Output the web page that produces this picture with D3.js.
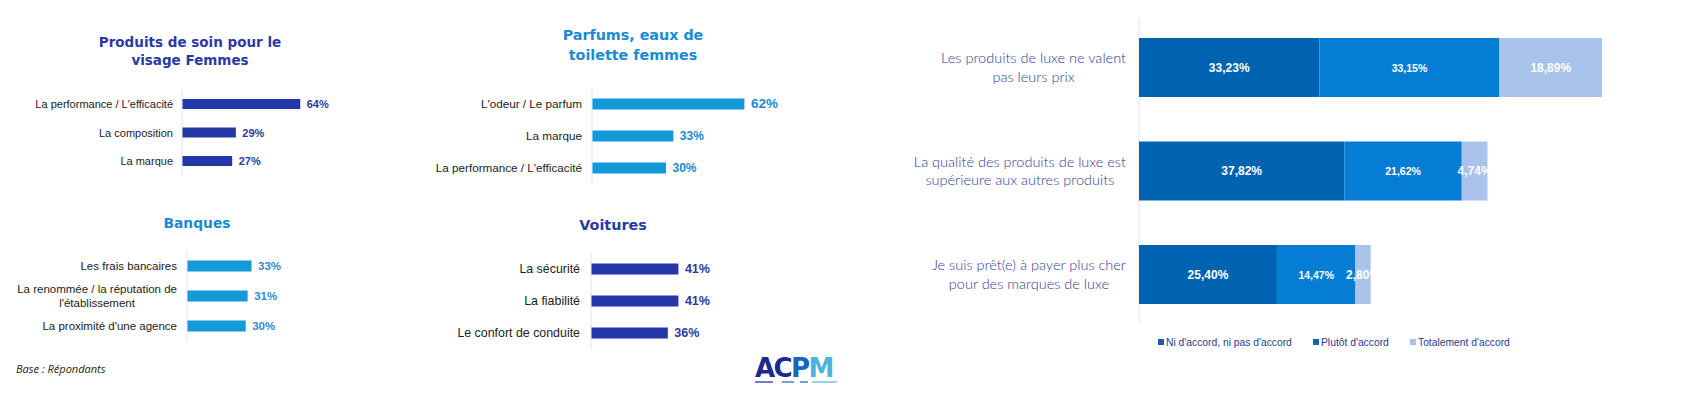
<!DOCTYPE html>
<html><head><meta charset="utf-8">
<script src="https://cdn.jsdelivr.net/npm/d3@7"></script>
<style>
html,body{margin:0;padding:0;background:#fff;}
svg{display:block;}
</style></head>
<body>
<svg id="c" width="1695" height="395"></svg>
<script>
// ---- data ----
const soinTitle = ["Produits de soin pour le", "visage Femmes"];
const soinCats = ["La performance / L'efficacité", "La composition", "La marque"];
const soinVals = [64, 29, 27];

const banqueTitle = ["Banques"];
const banqueCats = ["Les frais bancaires", "La renommée / la réputation de\nl'établissement", "La proximité d'une agence"];
const banqueVals = [33, 31, 30];

const parfumTitle = ["Parfums, eaux de", "toilette femmes"];
const parfumCats = ["L'odeur / Le parfum", "La marque", "La performance / L'efficacité"];
const parfumVals = [62, 33, 30];

const voitureTitle = ["Voitures"];
const voitureCats = ["La sécurité", "La fiabilité", "Le confort de conduite"];
const voitureVals = [41, 41, 36];

const luxeCats = ["Les produits de luxe ne valent\npas leurs prix",
                  "La qualité des produits de luxe est\nsupérieure aux autres produits",
                  "Je suis prêt(e) à payer plus cher\npour des marques de luxe"];
const luxeSeries = ["Ni d'accord, ni pas d'accord", "Plutôt d'accord", "Totalement d'accord"];
const niVals = [33.23, 37.82, 25.40];
const plutotVals = [33.15, 21.62, 14.47];
const totalVals = [18.89, 4.74, 2.80];

const baseNote = "Base : Répondants";

// ---- drawing ----
const svg = d3.select("#c");
const DARK = "#2337a6", LIGHT = "#149ad8";

function hbar(cfg) {
  const g = svg.append("g");
  const y = d3.scalePoint().domain(cfg.cats).range([cfg.y0, cfg.y1]).padding(0.5);
  const x = d3.scaleLinear().domain([0, 100]).range([cfg.x0, cfg.x0 + 100 * cfg.k]);
  // title
  const t = g.append("text").attr("text-anchor", "middle")
    .attr("font-family", "DejaVu Sans").attr("font-weight", "bold")
    .attr("font-size", cfg.tSize).attr("letter-spacing", cfg.tLs).attr("fill", cfg.tColor);
  cfg.title.forEach((l, i) => t.append("tspan").attr("x", cfg.tx).attr("y", cfg.ty + i * cfg.tLh).text(l));
  // axis line
  g.append("line").attr("x1", x(0)).attr("x2", x(0)).attr("y1", cfg.y0).attr("y2", cfg.y1)
    .attr("stroke", "#e3e4ec").attr("stroke-width", 1);
  // bars
  g.selectAll("rect.b").data(cfg.vals).join("rect")
    .attr("x", x(0) + 0.5).attr("y", (d, i) => y(cfg.cats[i]) - cfg.bh / 2)
    .attr("width", d => x(d) - x(0)).attr("height", cfg.bh).attr("fill", cfg.color);
  // value labels
  g.selectAll("text.v").data(cfg.vals).join("text")
    .attr("x", d => x(d) + 7).attr("y", (d, i) => y(cfg.cats[i]) + 4)
    .attr("font-family", "Liberation Sans, Arial").attr("font-weight", "bold")
    .attr("font-size", (d, i) => (cfg.vSizes ? cfg.vSizes[i] : cfg.vSize)).attr("fill", cfg.vColor)
    .text(d => d + "%");
  // category labels (multi-line centered in block, block right aligned)
  cfg.cats.forEach((c, i) => {
    const lines = c.split("\n");
    const txt = g.append("text").attr("font-family", "Liberation Sans, Arial")
      .attr("font-size", cfg.lSize).attr("fill", "#222").attr("text-anchor", "middle");
    const spans = lines.map((l, j) => txt.append("tspan").text(l));
    const w = d3.max(spans, s => s.node().getComputedTextLength());
    const cx = cfg.labelRight - w / 2;
    const lh = cfg.lSize * 1.18;
    spans.forEach((s, j) => s.attr("x", cx)
      .attr("y", y(c) + 4 + (j - (lines.length - 1) / 2) * lh));
  });
}

hbar({title: soinTitle, cats: soinCats, vals: soinVals, x0: 182, k: 1.84, y0: 89.75, y1: 175.25, bh: 10,
  color: DARK, tColor: "#2a3aa2", tx: 190, ty: 47, tLh: 18, tSize: 13.5, tLs: 0,
  vColor: "#2b3a9e", vSize: 11, lSize: 11, labelRight: 173});
hbar({title: banqueTitle, cats: banqueCats, vals: banqueVals, x0: 187, k: 1.94, y0: 251, y1: 341, bh: 11,
  color: LIGHT, tColor: "#1a8ad4", tx: 197, ty: 228, tLh: 18, tSize: 13.8, tLs: 0,
  vColor: "#3588cf", vSize: 11.5, lSize: 11.5, labelRight: 177});
hbar({title: parfumTitle, cats: parfumCats, vals: parfumVals, x0: 592, k: 2.45, y0: 88, y1: 184, bh: 11,
  color: LIGHT, tColor: "#1a8ad4", tx: 633, ty: 40, tLh: 19.5, tSize: 14.3, tLs: 0,
  vColor: "#1a8ad4", vSizes: [13.5, 12, 12], lSize: 11.7, labelRight: 582});
hbar({title: voitureTitle, cats: voitureCats, vals: voitureVals, x0: 591, k: 2.12, y0: 253, y1: 349, bh: 11,
  color: DARK, tColor: "#2a3aa2", tx: 613, ty: 230, tLh: 18, tSize: 14.4, tLs: 0,
  vColor: "#2a3a9e", vSize: 12.5, lSize: 12.4, labelRight: 580});

// base note
svg.append("text").attr("x", 16).attr("y", 373).attr("font-family", "Open Sans, Liberation Sans")
  .attr("font-style", "italic").attr("font-size", 11).attr("fill", "#222").text(baseNote);

// ACPM logo
const logo = svg.append("text").attr("x", 755).attr("y", 377)
  .attr("font-family", "DejaVu Sans").attr("font-weight", "bold").attr("font-size", 26).attr("letter-spacing", -1.6);
[["A", "#1b2a8c"], ["C", "#1b2a8c"], ["P", "#1466c0"], ["M", "#4bb4de"]].forEach(([l, c]) =>
  logo.append("tspan").attr("fill", c).text(l));
[[755, 773, "#1b2a8c"], [782, 794, "#1466c0"], [800, 808, "#1466c0"], [812, 837, "#4bb4de"]].forEach(([a, b, c]) =>
  svg.append("line").attr("x1", a).attr("x2", b).attr("y1", 382).attr("y2", 382).attr("stroke", c).attr("stroke-width", 1.2));

// ---- stacked chart ----
const sColors = ["#0063b1", "#057dd5", "#a9c3eb"];
const rows = luxeCats.map((c, i) => ({cat: c, v: [niVals[i], plutotVals[i], totalVals[i]]}));
const ys = d3.scaleBand().domain(luxeCats).range([15.75, 326.25]).paddingInner(0.43).paddingOuter(0.215);
const xs = d3.scaleLinear().domain([0, 100]).range([1139, 1139 + 543]);
const sg = svg.append("g");
sg.append("line").attr("x1", xs(0)).attr("x2", xs(0)).attr("y1", 17).attr("y2", 323)
  .attr("stroke", "#dfe3ea").attr("stroke-width", 1);
const lblSizes = [12, 10.5, 12];
rows.forEach(r => {
  let acc = 0;
  r.v.forEach((v, j) => {
    sg.append("rect").attr("x", xs(acc)).attr("y", ys(r.cat)).attr("width", xs(acc + v) - xs(acc))
      .attr("height", ys.bandwidth()).attr("fill", sColors[j]);
    acc += v;
  });
  acc = 0;
  r.v.forEach((v, j) => {
    sg.append("text").attr("x", xs(acc + v / 2)).attr("y", ys(r.cat) + ys.bandwidth() / 2 + 4)
      .attr("text-anchor", "middle").attr("font-family", "Liberation Sans, Arial").attr("font-weight", "bold")
      .attr("font-size", lblSizes[j]).attr("fill", "#fff")
      .text(v.toFixed(2).replace(".", ",") + "%");
    acc += v;
  });
  const lines = r.cat.split("\n");
  const txt = sg.append("text").attr("font-family", "Lato").attr("font-weight", 300)
    .attr("font-size", 14.5).attr("fill", "#2f3c99").attr("text-anchor", "middle");
  const spans = lines.map(l => txt.append("tspan").text(l));
  const w = d3.max(spans, s => s.node().getComputedTextLength());
  const cx = 1126 - w / 2;
  const cy = ys(r.cat) + ys.bandwidth() / 2;
  spans.forEach((s, j) => s.attr("x", cx).attr("y", cy + 5 + (j - 0.5) * 18.5));
});
// legend
const legX = [1158, 1313, 1410];
luxeSeries.forEach((s, j) => {
  sg.append("rect").attr("x", legX[j]).attr("y", 339).attr("width", 6).attr("height", 6)
    .attr("fill", j === 2 ? sColors[2] : "#1a5fae");
  sg.append("text").attr("x", legX[j] + 8).attr("y", 345.5).attr("font-family", "Liberation Sans, Arial")
    .attr("font-size", 10.3).attr("fill", "#2b3a8e").text(s);
});
</script>
</body></html>
